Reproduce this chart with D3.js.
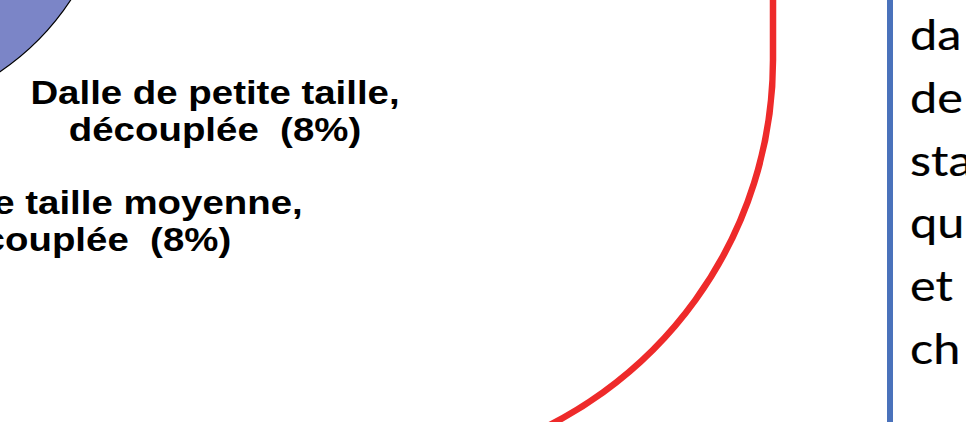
<!DOCTYPE html>
<html>
<head>
<meta charset="utf-8">
<script src="https://cdn.jsdelivr.net/npm/d3@7"></script>
<style>
  body { margin: 0; background: #fff; overflow: hidden; }
  .label { font-family: "Liberation Sans", Arial, sans-serif; font-weight: bold; font-size: 34px; fill: #000; }
  .note { font-family: Lato, "Open Sans", sans-serif; font-size: 43px; fill: #000; stroke: #000; stroke-width: 0.2px; }
</style>
</head>
<body>
<div id="chart"></div>
<script>
// slices of the pie (percent of total)
const categories = ["Dalle de petite taille, découplée", "Dalle de taille moyenne, découplée"];
const values = [8, 8];
const labelLines = [
    ["Dalle de petite taille,", "découplée  (8%)"],
    ["Dalle de taille moyenne,", "découplée  (8%)"]
];
// side text box, one word-piece per line
const noteLines = ["da", "de", "sta", "qu", "et", "ch"];

const sliceColors = ["#7b85c7", "#9aa3d6"];

let width = 966, height = 422;
let sx = 1.13; // slide picture is stretched a bit horizontally

let svg = d3.select("#chart")
    .append("svg")
    .attr("width", width)
    .attr("height", height);

// pie: centre lies outside the crop, upper left
let pieCenter = {x: -147, y: -144};
let radius = 261;

let angle = d3.scaleLinear()
    .domain([0, 100])
    .range([0, 2 * Math.PI]);

let startAngle = Math.PI * 120 / 180;

let pie = d3.pie()
    .sort(null)
    .value(d => d.value)
    .startAngle(startAngle)
    .endAngle(startAngle + angle(d3.sum(values)));

let pieData = pie(categories.map((c, i) => ({name: c, value: values[i]})));

let arc = d3.arc()
    .innerRadius(0)
    .outerRadius(radius);

svg.append("g")
    .attr("transform", `translate(${pieCenter.x},${pieCenter.y})`)
    .selectAll("path")
    .data(pieData)
    .enter().append("path")
    .attr("d", arc)
    .attr("fill", (d, i) => sliceColors[i])
    .attr("stroke", "#000")
    .attr("stroke-width", 1.2);

// slice labels
let labelPos = [
    {x: 215, y: 104},
    {x: 85, y: 214}
];
let lineGap = 37;

labelLines.forEach((lines, i) => {
    let g = svg.append("g")
        .attr("transform", `translate(${labelPos[i].x},${labelPos[i].y}) scale(${sx},1)`);
    g.selectAll("text")
        .data(lines)
        .enter().append("text")
        .attr("class", "label")
        .attr("x", 0)
        .attr("y", (d, j) => j * lineGap)
        .attr("text-anchor", "middle")
        .style("white-space", "pre")
        .text(d => d);
});

// red highlight outline
let red = d3.path();
red.moveTo(773, -10);
red.lineTo(773, 60);
red.arc(363, 60, 410, 0, 1.25, false);

svg.append("path")
    .attr("d", red.toString())
    .attr("fill", "none")
    .attr("stroke", "#ee2a2a")
    .attr("stroke-width", 6.5);

// text box with blue left rule
svg.append("line")
    .attr("x1", 890).attr("x2", 890)
    .attr("y1", 0).attr("y2", height)
    .attr("stroke", "#4a72bb")
    .attr("stroke-width", 6);

let note = svg.append("g")
    .attr("transform", `translate(910,0) scale(${sx},1)`);

note.selectAll("text")
    .data(noteLines)
    .enter().append("text")
    .attr("class", "note")
    .attr("x", 0)
    .attr("y", (d, i) => 50 + i * 62.8)
    .text(d => d);
</script>
</body>
</html>
